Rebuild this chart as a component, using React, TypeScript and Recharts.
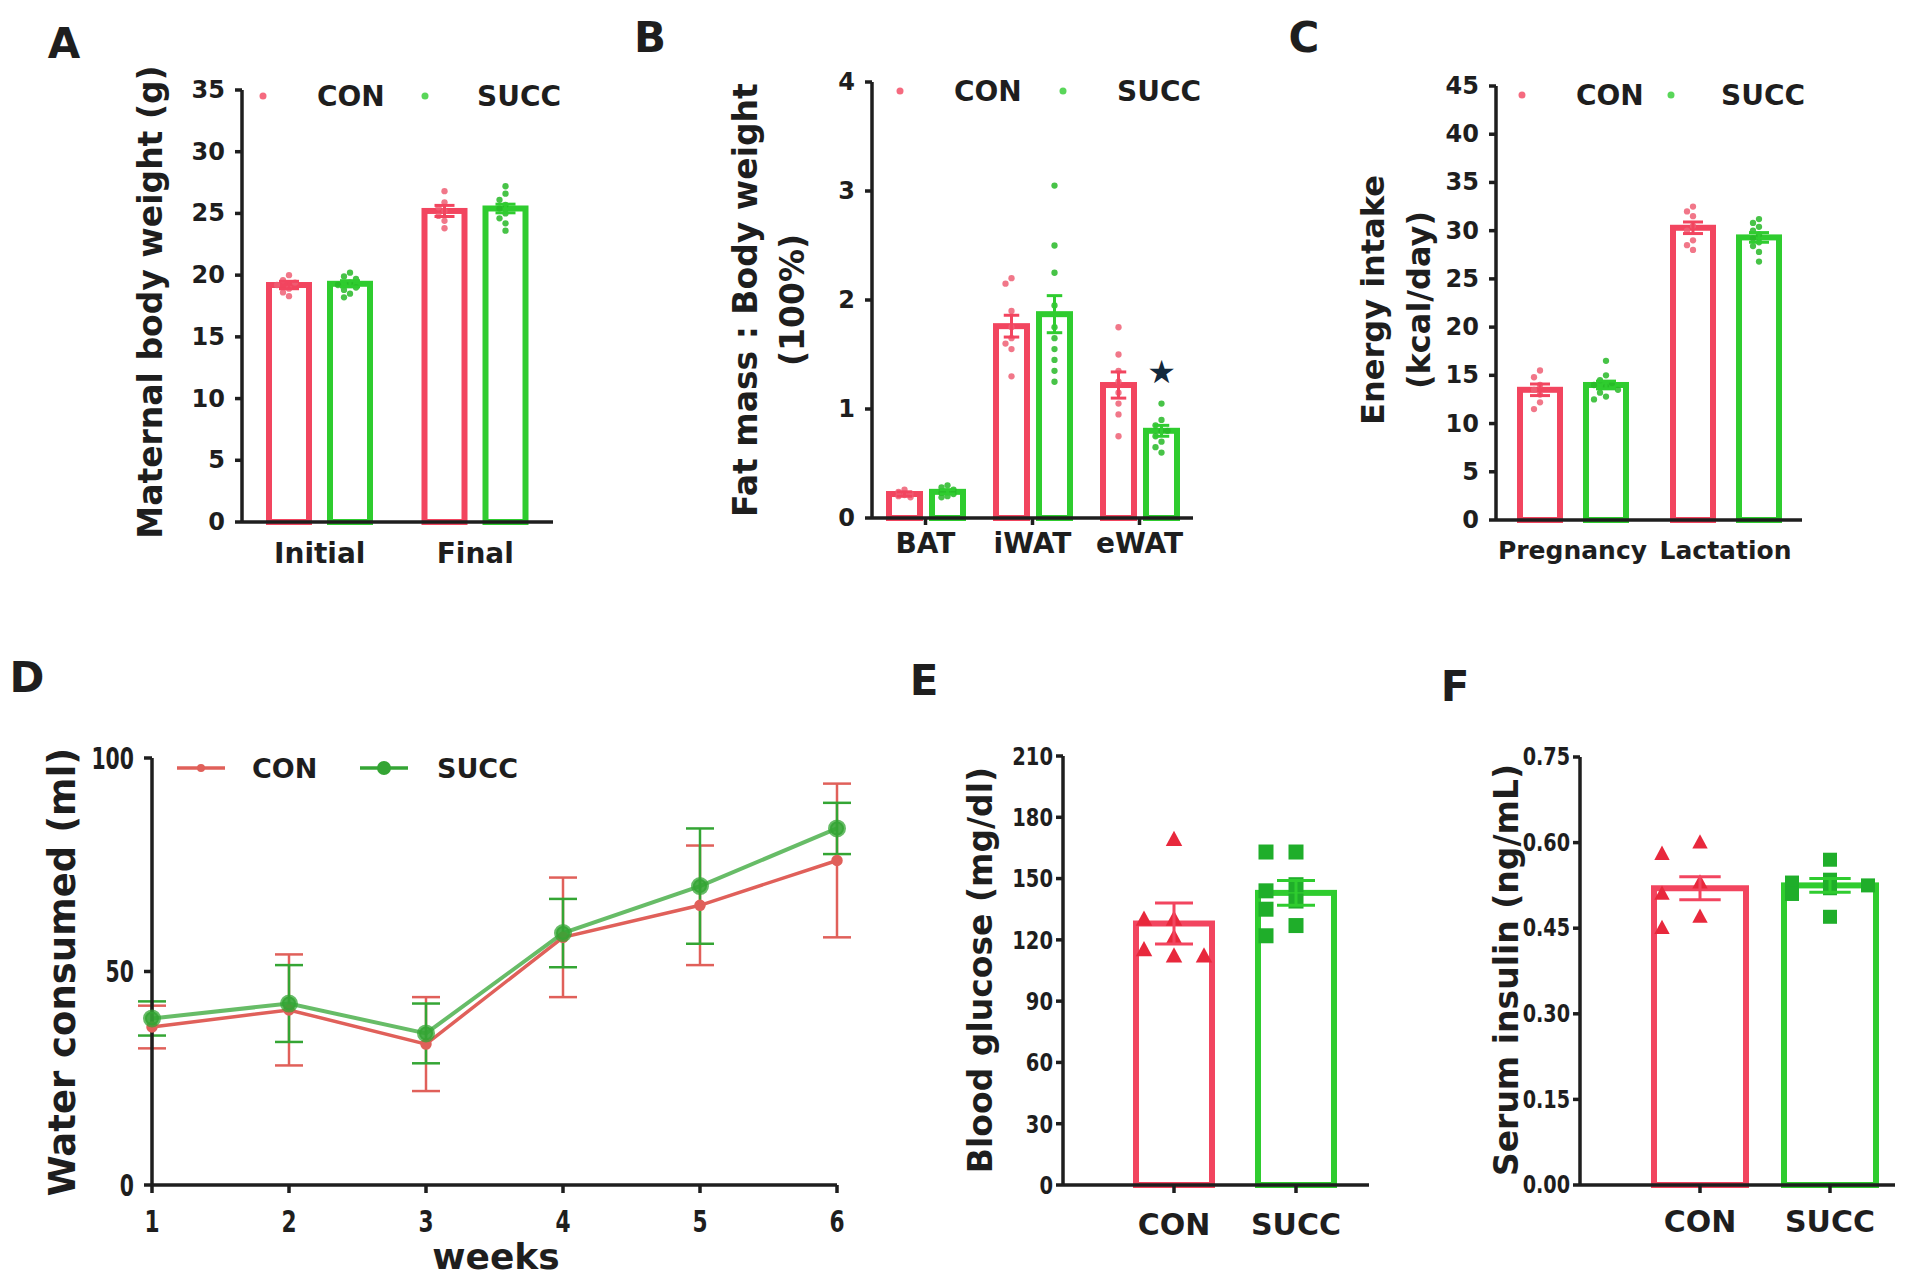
import React from 'react';
import { BarChart, Bar, XAxis, YAxis, LineChart, Line, ErrorBar, Legend } from 'recharts';

const W = 1920;
const H = 1285;
const FONT = "'DejaVu Sans', 'Liberation Sans', Arial, sans-serif";
const INK = '#1e1e1e';
const RED = '#f2455f';
const GREEN = '#2fcc2f';
const RED_PT = '#ee5f74';
const GREEN_PT = '#27b827';
const RED_MK = '#e8283c';
const GREEN_MK = '#1fae2a';
const STAR = '#12283c';
const RED_LINE = '#e0605a';
const GREEN_LINE = '#34a534';

// ---------- Panel A: maternal body weight ----------
const catsA = ['Initial', 'Final'];
const conA = [19.2, 25.2];
const succA = [19.3, 25.4];
const conSemA = [0.3, 0.45];
const succSemA = [0.25, 0.35];
const conPtsA = [
  [20.0, 19.6, 19.4, 19.2, 18.9, 18.6, 18.3],
  [26.8, 25.9, 25.5, 25.2, 24.8, 24.4, 23.8],
];
const succPtsA = [
  [20.2, 19.9, 19.7, 19.4, 19.2, 19.0, 18.8, 18.5, 18.2],
  [27.2, 26.6, 26.1, 25.7, 25.4, 25.0, 24.6, 24.2, 23.6],
];
const ticksA = [0, 5, 10, 15, 20, 25, 30, 35];

// ---------- Panel B: fat mass ----------
const catsB = ['BAT', 'iWAT', 'eWAT'];
const conB = [0.22, 1.76, 1.22];
const succB = [0.24, 1.87, 0.8];
const conSemB = [0.02, 0.1, 0.12];
const succSemB = [0.02, 0.17, 0.05];
const conPtsB = [
  [0.26, 0.24, 0.22, 0.21, 0.2, 0.19],
  [2.2, 2.15, 1.9, 1.75, 1.65, 1.6, 1.55, 1.3],
  [1.75, 1.5, 1.35, 1.25, 1.15, 1.05, 0.95, 0.75],
];
const succPtsB = [
  [0.3, 0.28, 0.26, 0.24, 0.23, 0.22, 0.2, 0.19],
  [3.05, 2.5, 2.25, 1.95, 1.75, 1.65, 1.55, 1.45, 1.35, 1.25],
  [1.05, 0.9, 0.85, 0.8, 0.8, 0.75, 0.7, 0.65, 0.6],
];
const succSigB = ['', '', '*'];
const ticksB = [0, 1, 2, 3, 4];

// ---------- Panel C: energy intake ----------
const catsC = ['Pregnancy', 'Lactation'];
const conC = [13.5, 30.3];
const succC = [14.0, 29.3];
const conSemC = [0.6, 0.6];
const succSemC = [0.4, 0.5];
const conPtsC = [
  [15.5, 14.8, 14.0, 13.5, 13.0, 12.2, 11.5],
  [32.5, 32.0, 31.5, 30.5, 30.0, 29.0, 28.5, 28.0],
];
const succPtsC = [
  [16.5, 15.0, 14.5, 14.2, 14.0, 13.8, 13.5, 13.2, 12.8, 12.5],
  [31.2, 30.8, 30.4, 30.0, 29.6, 29.2, 28.8, 28.4, 27.8, 26.8],
];
const ticksC = [0, 5, 10, 15, 20, 25, 30, 35, 40, 45];

// ---------- Panel D: water consumed ----------
const weeksD = [1, 2, 3, 4, 5, 6];
const conD = [37, 41, 33, 58, 65.5, 76];
const succD = [39, 42.5, 35.5, 59, 70, 83.5];
const conErrD = [5, 13, 11, 14, 14, 18];
const succErrD = [4, 9, 7, 8, 13.5, 6];
const ticksD = [0, 50, 100];

// ---------- Panel E: blood glucose ----------
const groupsE = ['CON', 'SUCC'];
const meanE = [128, 143];
const semE = [10, 6];
const ptsE = [
  [169, 130, 130, 121, 115, 112, 112],
  [163, 163, 147, 144, 139, 135, 127, 122],
];
const ticksE = [0, 30, 60, 90, 120, 150, 180, 210];

// ---------- Panel F: serum insulin ----------
const groupsF = ['CON', 'SUCC'];
const meanF = [0.52, 0.525];
const semF = [0.02, 0.012];
const ptsF = [
  [0.6, 0.58, 0.53, 0.51, 0.47, 0.45],
  [0.57, 0.535, 0.53, 0.525, 0.52, 0.51, 0.47],
];
const ticksF = [0, 0.15, 0.3, 0.45, 0.6, 0.75];

// ---------- tables ----------
const dataA = catsA.map((name, i) => ({
  name, CON: conA[i], SUCC: succA[i], CON_sem: conSemA[i], SUCC_sem: succSemA[i],
  CON_pts: conPtsA[i], SUCC_pts: succPtsA[i],
}));
const dataB = catsB.map((name, i) => ({
  name, CON: conB[i], SUCC: succB[i], CON_sem: conSemB[i], SUCC_sem: succSemB[i],
  CON_pts: conPtsB[i], SUCC_pts: succPtsB[i], SUCC_sig: succSigB[i],
}));
const dataC = catsC.map((name, i) => ({
  name, CON: conC[i], SUCC: succC[i], CON_sem: conSemC[i], SUCC_sem: succSemC[i],
  CON_pts: conPtsC[i], SUCC_pts: succPtsC[i],
}));
const dataD = weeksD.map((week, i) => ({
  week, CON: conD[i], SUCC: succD[i], conErr: conErrD[i], succErr: succErrD[i],
}));
const dataE = groupsE.map((name, i) => ({ name, val: meanE[i], val_sem: semE[i], val_pts: ptsE[i] }));
const dataF = groupsF.map((name, i) => ({ name, val: meanF[i], val_sem: semF[i], val_pts: ptsF[i] }));

// ---------- helpers ----------
const AXIS = { stroke: INK, strokeWidth: 3.5 };
const TXT = { fill: INK, fontFamily: FONT, fontWeight: 'bold' as const };
const LEG_WRAP: React.CSSProperties = { left: 0, top: 0, width: 0, height: 0, overflow: 'visible' };

const YTick = ({ x, y, payload, fs, sx = 1, fmt }: any) => (
  <text transform={`translate(${x}, ${y}) scale(${sx}, 1)`} textAnchor="end" dominantBaseline="central"
    fontSize={fs} {...TXT}>{fmt ? fmt(payload.value) : payload.value}</text>
);

const XTick = ({ x, y, payload, fs, sx = 1 }: any) => (
  <text transform={`translate(${x}, ${y}) scale(${sx}, 1)`} textAnchor="middle" dy="0.73em"
    fontSize={fs} {...TXT}>{payload.value}</text>
);

function swarm(ys: number[], size: number, step: number, maxHalf: number): number[] {
  const placed: Array<[number, number]> = [];
  const cands: number[] = [0];
  for (let k = 1; k * step <= maxHalf + 0.01; k++) cands.push(-k * step, k * step);
  return ys.map((yy) => {
    let best = 0;
    let bestD = -1;
    for (const dx of cands) {
      let dmin = Infinity;
      for (const [px, py] of placed) dmin = Math.min(dmin, Math.hypot(px - dx, py - yy));
      if (dmin >= size) { best = dx; break; }
      if (dmin > bestD) { bestD = dmin; best = dx; }
    }
    placed.push([best, yy]);
    return best;
  });
}

type Marker = 'dot' | 'tri' | 'sq';
interface ShapeOpts {
  key: string;
  color: (p: any) => string;
  ptColor: (p: any) => string;
  marker: (p: any) => Marker;
  msize: number;
  step: number;
  sw: number;
  capFrac: number;
}

function renderMarker(mk: Marker, x: number, y: number, s: number, c: string, i: number) {
  if (mk === 'tri') {
    const pts = `${x},${y - s * 0.6} ${x - s * 0.55},${y + s * 0.42} ${x + s * 0.55},${y + s * 0.42}`;
    return <polygon key={i} points={pts} fill={c} />;
  }
  if (mk === 'sq') return <rect key={i} x={x - s / 2} y={y - s / 2} width={s} height={s} fill={c} />;
  return <circle key={i} cx={x} cy={y} r={s * 0.45} fill={c} fillOpacity={0.85} />;
}

function makeShape(o: ShapeOpts) {
  return (props: any) => {
    const { x, y, width, height, payload } = props;
    if (x == null || payload == null || !height) return <g />;
    const mean = payload[o.key];
    const base = y + height;
    const ppu = height / mean;
    const py = (v: number) => base - v * ppu;
    const color = o.color(payload);
    const pc = o.ptColor(payload);
    const mk = o.marker(payload);
    const cx = x + width / 2;
    const pts: number[] = payload[o.key + '_pts'] || [];
    const ys = pts.map(py);
    const dxs = swarm(ys, o.msize, o.step, width / 2 - o.sw);
    const sem = payload[o.key + '_sem'] || 0;
    const cap = width * o.capFrac;
    const sig = payload[o.key + '_sig'];
    const topY = Math.min(py(mean + sem), ...ys);
    return (
      <g>
        <rect x={x} y={y} width={width} height={height} fill="#fff" stroke={color} strokeWidth={o.sw} />
        {ys.map((yy, i) => renderMarker(mk, cx + dxs[i], yy, o.msize, pc, i))}
        <line x1={cx} x2={cx} y1={py(mean + sem)} y2={py(mean - sem)} stroke={color} strokeWidth={3} />
        <line x1={cx - cap / 2} x2={cx + cap / 2} y1={py(mean + sem)} y2={py(mean + sem)} stroke={color} strokeWidth={3} />
        <line x1={cx - cap / 2} x2={cx + cap / 2} y1={py(mean - sem)} y2={py(mean - sem)} stroke={color} strokeWidth={3} />
        {sig ? (
          <text x={cx} y={topY - 32} textAnchor="middle" dominantBaseline="central" fontSize={32} fill={STAR} fontFamily={FONT}>★</text>
        ) : null}
      </g>
    );
  };
}

const dotShape = (key: string, color: string, pt: string) =>
  makeShape({ key, color: () => color, ptColor: () => pt, marker: () => 'dot', msize: 7, step: 6, sw: 6, capFrac: 0.5 });

const groupColor = (p: any) => (p.name === 'CON' ? RED : GREEN);
const groupPt = (p: any) => (p.name === 'CON' ? RED_MK : GREEN_MK);
const groupMk = (p: any): Marker => (p.name === 'CON' ? 'tri' : 'sq');

const YTitle = ({ lines, tx, ty, size, gap }: any) => (
  <g>
    {lines.map((t: string, i: number) => (
      <text key={i} transform={`translate(${tx + i * gap}, ${ty}) rotate(-90)`} textAnchor="middle"
        dominantBaseline="central" fontSize={size} {...TXT}>{t}</text>
    ))}
  </g>
);

const XTitle = ({ text, tx, ty, size }: any) => (
  <text x={tx} y={ty} textAnchor="middle" dominantBaseline="central" fontSize={size} {...TXT}>{text}</text>
);

const BarLegend = ({ payload, pos, y }: any) => (
  <svg width={W} height={H} style={{ position: 'absolute', left: 0, top: 0, overflow: 'visible', pointerEvents: 'none' }}>
    {(payload || []).map((p: any) => {
      const q = pos[p.value];
      if (!q) return null;
      return (
        <g key={p.value}>
          <circle cx={q[0]} cy={y} r={3.5} fill={p.color} fillOpacity={0.8} />
          <text x={q[1]} y={y} dominantBaseline="central" fontSize={28} {...TXT}>{p.value}</text>
        </g>
      );
    })}
  </svg>
);

const LineLegend = ({ payload, pos, y }: any) => (
  <svg width={W} height={H} style={{ position: 'absolute', left: 0, top: 0, overflow: 'visible', pointerEvents: 'none' }}>
    {(payload || []).map((p: any) => {
      const q = pos[p.value];
      if (!q) return null;
      return (
        <g key={p.value}>
          <line x1={q[0]} x2={q[1]} y1={y} y2={y} stroke={p.color} strokeWidth={3.5} />
          <circle cx={(q[0] + q[1]) / 2} cy={y} r={p.value === 'SUCC' ? 7 : 4} fill={p.color} />
          <text x={q[2]} y={y} dominantBaseline="central" fontSize={27} {...TXT}>{p.value}</text>
        </g>
      );
    })}
  </svg>
);

const Layer = ({ children }: any) => (
  <div style={{ position: 'absolute', left: 0, top: 0, width: W, height: H }}>{children}</div>
);

const PanelA = () => (
  <Layer>
    <BarChart width={W} height={H} data={dataA} barSize={40} barGap={21}
      margin={{ top: 90, right: W - 553, bottom: H - 522 - 60, left: 242 - 80 }}>
      <XAxis dataKey="name" height={60} interval={0} axisLine={AXIS} tickLine={false} tickSize={0} tickMargin={21}
        tick={<XTick fs={28} />} />
      <YAxis width={80} domain={[0, 35]} ticks={ticksA} interval={0} axisLine={AXIS} tickLine={AXIS} tickSize={7}
        tickMargin={10} tick={<YTick fs={24} />}
        label={<YTitle lines={['Maternal body weight (g)']} tx={150} ty={302} size={33} gap={0} />} />
      <Bar dataKey="CON" name="CON" fill={RED} isAnimationActive={false} shape={dotShape('CON', RED, RED_PT)} />
      <Bar dataKey="SUCC" name="SUCC" fill={GREEN} isAnimationActive={false} shape={dotShape('SUCC', GREEN, GREEN_PT)} />
      <Legend wrapperStyle={LEG_WRAP} content={<BarLegend pos={{ CON: [263, 317], SUCC: [425, 477] }} y={96} />} />
    </BarChart>
  </Layer>
);

const PanelB = () => (
  <Layer>
    <BarChart width={W} height={H} data={dataB} barSize={31} barGap={12}
      margin={{ top: 82, right: W - 1193, bottom: H - 518 - 60, left: 872 - 80 }}>
      <XAxis dataKey="name" height={60} interval={0} axisLine={AXIS} tickLine={AXIS} tickSize={7} tickMargin={8}
        tick={<XTick fs={28} />} />
      <YAxis width={80} domain={[0, 4]} ticks={ticksB} interval={0} axisLine={AXIS} tickLine={AXIS} tickSize={7}
        tickMargin={10} tick={<YTick fs={24} />}
        label={<YTitle lines={['Fat mass : Body weight', '(100%)']} tx={745} ty={300} size={33} gap={47} />} />
      <Bar dataKey="CON" name="CON" fill={RED} isAnimationActive={false} shape={dotShape('CON', RED, RED_PT)} />
      <Bar dataKey="SUCC" name="SUCC" fill={GREEN} isAnimationActive={false} shape={dotShape('SUCC', GREEN, GREEN_PT)} />
      <Legend wrapperStyle={LEG_WRAP} content={<BarLegend pos={{ CON: [900, 954], SUCC: [1063, 1117] }} y={91} />} />
    </BarChart>
  </Layer>
);

const PanelC = () => (
  <Layer>
    <BarChart width={W} height={H} data={dataC} barSize={40} barGap={26}
      margin={{ top: 86, right: W - 1802, bottom: H - 520 - 60, left: 1496 - 80 }}>
      <XAxis dataKey="name" height={60} interval={0} axisLine={AXIS} tickLine={false} tickSize={0} tickMargin={21}
        tick={<XTick fs={25} />} />
      <YAxis width={80} domain={[0, 45]} ticks={ticksC} interval={0} axisLine={AXIS} tickLine={AXIS} tickSize={7}
        tickMargin={10} tick={<YTick fs={24} />}
        label={<YTitle lines={['Energy intake', '(kcal/day)']} tx={1373} ty={300} size={32} gap={46} />} />
      <Bar dataKey="CON" name="CON" fill={RED} isAnimationActive={false} shape={dotShape('CON', RED, RED_PT)} />
      <Bar dataKey="SUCC" name="SUCC" fill={GREEN} isAnimationActive={false} shape={dotShape('SUCC', GREEN, GREEN_PT)} />
      <Legend wrapperStyle={LEG_WRAP} content={<BarLegend pos={{ CON: [1522, 1576], SUCC: [1671, 1721] }} y={95} />} />
    </BarChart>
  </Layer>
);

const PanelD = () => (
  <Layer>
    <LineChart width={W} height={H} data={dataD}
      margin={{ top: 758, right: W - 837, bottom: H - 1185 - 90, left: 152 - 80 }}>
      <XAxis type="number" dataKey="week" domain={[1, 6]} ticks={weeksD} interval={0} height={90}
        axisLine={AXIS} tickLine={AXIS} tickSize={8} tickMargin={16} tick={<XTick fs={31} sx={0.7} />}
        label={<XTitle text="weeks" tx={496} ty={1256} size={36} />} />
      <YAxis width={80} domain={[0, 100]} ticks={ticksD} interval={0} axisLine={AXIS} tickLine={AXIS} tickSize={8}
        tickMargin={10} tick={<YTick fs={30} sx={0.68} />}
        label={<YTitle lines={['Water consumed (ml)']} tx={62} ty={972} size={37} gap={0} />} />
      <Line dataKey="CON" name="CON" stroke={RED_LINE} strokeWidth={3.5} isAnimationActive={false}
        dot={{ r: 4, fill: RED_LINE, stroke: RED_LINE }}>
        <ErrorBar dataKey="conErr" width={14} strokeWidth={2.5} stroke={RED_LINE} direction="y" isAnimationActive={false} />
      </Line>
      <Line dataKey="SUCC" name="SUCC" stroke={GREEN_LINE} strokeWidth={4} strokeOpacity={0.75} isAnimationActive={false}
        dot={{ r: 7, fill: GREEN_LINE, stroke: GREEN_LINE, fillOpacity: 0.9 }}>
        <ErrorBar dataKey="succErr" width={14} strokeWidth={2.5} stroke={GREEN_LINE} direction="y" isAnimationActive={false} />
      </Line>
      <Legend wrapperStyle={LEG_WRAP} content={<LineLegend pos={{ CON: [177, 225, 252], SUCC: [360, 408, 437] }} y={768} />} />
    </LineChart>
  </Layer>
);

const PanelE = () => (
  <Layer>
    <BarChart width={W} height={H} data={dataE} barSize={76}
      margin={{ top: 756, right: W - 1369, bottom: H - 1185 - 80, left: 1063 - 80 }}>
      <XAxis dataKey="name" height={80} interval={0} padding={{ left: 50, right: 12 }} axisLine={AXIS} tickLine={AXIS}
        tickSize={8} tickMargin={20} tick={<XTick fs={30} />} />
      <YAxis width={80} domain={[0, 210]} ticks={ticksE} interval={0} axisLine={AXIS} tickLine={AXIS} tickSize={7}
        tickMargin={3} tick={<YTick fs={25} sx={0.78} />}
        label={<YTitle lines={['Blood glucose (mg/dl)']} tx={980} ty={970} size={33} gap={0} />} />
      <Bar dataKey="val" fill={RED} isAnimationActive={false}
        shape={makeShape({ key: 'val', color: groupColor, ptColor: groupPt, marker: groupMk, msize: 15, step: 30, sw: 6, capFrac: 0.5 })} />
    </BarChart>
  </Layer>
);

const fmtF = (v: number) => v.toFixed(2);

const PanelF = () => (
  <Layer>
    <BarChart width={W} height={H} data={dataF} barSize={92}
      margin={{ top: 757, right: W - 1895, bottom: H - 1185 - 80, left: 1580 - 80 }}>
      <XAxis dataKey="name" height={80} interval={0} padding={{ left: 55, right: 0 }} axisLine={AXIS} tickLine={AXIS}
        tickSize={8} tickMargin={17} tick={<XTick fs={30} />} />
      <YAxis width={80} domain={[0, 0.75]} ticks={ticksF} interval={0} axisLine={AXIS} tickLine={AXIS} tickSize={7}
        tickMargin={3} tick={<YTick fs={24} sx={0.8} fmt={fmtF} />}
        label={<YTitle lines={['Serum insulin (ng/mL)']} tx={1506} ty={970} size={33} gap={0} />} />
      <Bar dataKey="val" fill={RED} isAnimationActive={false}
        shape={makeShape({ key: 'val', color: groupColor, ptColor: groupPt, marker: groupMk, msize: 14, step: 38, sw: 6, capFrac: 0.45 })} />
    </BarChart>
  </Layer>
);

const panelLetters: Array<[string, number, number]> = [
  ['A', 64, 43], ['B', 650, 37], ['C', 1304, 37], ['D', 27, 677], ['E', 924, 680], ['F', 1455, 686],
];

export default function App() {
  return (
    <div style={{ position: 'absolute', left: 0, top: 0, width: W, height: H, background: '#fff', overflow: 'hidden' }}>
      <PanelA />
      <PanelB />
      <PanelC />
      <PanelD />
      <PanelE />
      <PanelF />
      <svg width={W} height={H} style={{ position: 'absolute', left: 0, top: 0, pointerEvents: 'none' }}>
        {panelLetters.map(([t, x, y]) => (
          <text key={t} x={x} y={y} textAnchor="middle" dominantBaseline="central" fontSize={42} {...TXT}>{t}</text>
        ))}
      </svg>
    </div>
  );
}
